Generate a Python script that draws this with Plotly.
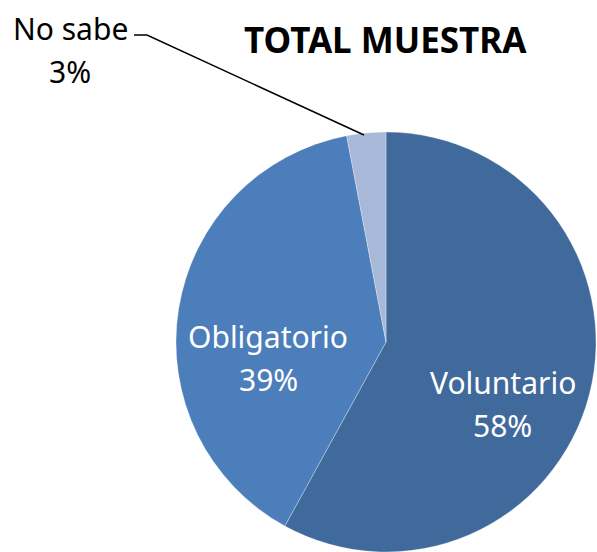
import plotly.graph_objects as go

# Datos del gráfico
etiquetas = ["Voluntario", "Obligatorio", "No sabe"]
porcentajes = [58, 39, 3]
colores = ["#416A9C", "#4B7EBA", "#A8B8D8"]
titulo = "TOTAL MUESTRA"

W, H = 597, 552
FUENTE = "Noto Sans"


def px_x(x):
    return x / W


def px_y(y):
    return 1 - y / H


# Centro y radio de la torta (píxeles)
cx, cy, r = 386, 343, 210

fig = go.Figure(go.Pie(
    labels=etiquetas,
    values=porcentajes,
    marker=dict(colors=colores, line=dict(color="rgba(255,255,255,0.5)", width=0.6)),
    sort=False,
    direction="clockwise",
    rotation=0,
    textinfo="none",
    hoverinfo="label+percent",
    domain=dict(x=[px_x(cx - r - 1), min(1, px_x(cx + r + 1))],
                y=[max(0, px_y(cy + r + 1)), px_y(cy - r - 1)]),
    showlegend=False,
))

# Posiciones (en píxeles) de las etiquetas de cada porción
pos_etiquetas = {
    "Voluntario": (503, 382, "white"),
    "Obligatorio": (268, 336, "white"),
    "No sabe": (70, 28, "black"),
}

anotaciones = []
for nombre, valor in zip(etiquetas, porcentajes):
    x, y, col = pos_etiquetas[nombre]
    for i, txt in enumerate([nombre, f"{valor}%"]):
        anotaciones.append(dict(x=px_x(x), y=px_y(y + 43 * i), xref="paper", yref="paper",
                                xanchor="center", yanchor="middle",
                                text=txt, showarrow=False,
                                font=dict(family=FUENTE, size=30, color=col)))

anotaciones.append(dict(x=px_x(385), y=px_y(40), xref="paper", yref="paper",
                        xanchor="center", yanchor="middle",
                        text=f"<b>{titulo}</b>", showarrow=False,
                        font=dict(family=FUENTE, size=35, color="black")))

# Línea guía de "No sabe"
guia = (f"M {px_x(134)},{px_y(35)} L {px_x(147)},{px_y(35)} "
        f"L {px_x(364)},{px_y(135)}")

fig.update_layout(
    width=W, height=H,
    margin=dict(l=0, r=0, t=0, b=0),
    paper_bgcolor="white",
    plot_bgcolor="white",
    annotations=anotaciones,
    shapes=[dict(type="path", path=guia, xref="paper", yref="paper",
                 line=dict(color="black", width=1.5))],
)

# Sin margen en la página para que el gráfico ocupe toda la ventana
fig.write_html("out.html",
               config={"displayModeBar": False},
               post_script="document.body.style.margin='0';"
                           "document.body.style.overflow='hidden';")
